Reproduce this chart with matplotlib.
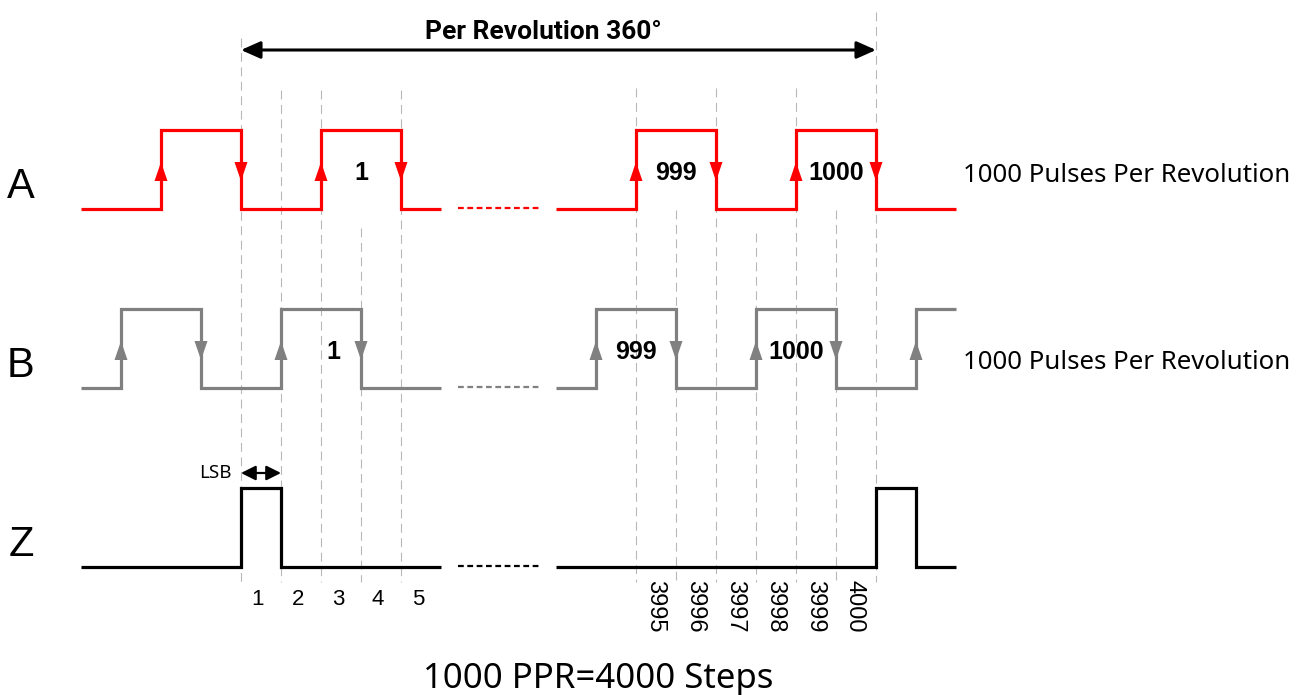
import matplotlib.pyplot as plt

# time axis in encoder steps, boundary 0 = index pulse (start of a revolution)
left_window = [-4, 5]
right_window = [3992, 4002]

a_edges_left = [-2, 0, 2, 4]
a_edges_right = [3994, 3996, 3998, 4000]
b_edges_left = [-3, -1, 1, 3]
b_edges_right = [3993, 3995, 3997, 3999, 4001]
z_edges_left = [0, 1]
z_edges_right = [4000, 4001]

pulse_labels = ['1', '999', '1000']
step_labels_left = ['1', '2', '3', '4', '5']
step_labels_right = ['3995', '3996', '3997', '3998', '3999', '4000']
boundaries = [0, 1, 2, 3, 4, 3994, 3995, 3996, 3997, 3998, 3999, 4000]
boundary_tops = [38, 90, 90, 228, 90, 88, 210, 88, 233, 88, 210, 12]  # px, style only

channel_names = ['A', 'B', 'Z']
side_text = '1000 Pulses Per Revolution'
rev_text = 'Per Revolution 360°'
bottom_text = '1000 PPR=4000 Steps'

# layout: x in steps (40 px each), y in pixels from top
PX = 1 / 40.0
SHIFT = 3984.125          # right part of the diagram is drawn after a break
AMP = 79


def pos(t):
    return t - SHIFT if t > 1000 else t


def px(x):
    return (x - 241) * PX


def wave(edges, window, low):
    xs, ys = [window[0]], [low]
    level = 0
    for e in edges:
        xs += [e, e]
        ys += [low - AMP * level, low - AMP * (1 - level)]
        level = 1 - level
    xs.append(window[1])
    ys.append(low - AMP * level)
    return [pos(x) for x in xs], ys


def pulses(edges):
    # high intervals from a list of edges starting low
    out = []
    for i in range(0, len(edges), 2):
        end = edges[i + 1] if i + 1 < len(edges) else None
        out.append((edges[i], end))
    return out


fig = plt.figure(figsize=(13.07, 6.95), dpi=100)
ax = fig.add_axes([0, 0, 1, 1])
ax.set_xlim(px(0), px(1307))
ax.set_ylim(695, 0)
ax.axis('off')

# dashed step boundaries
for b, top in zip(boundaries, boundary_tops):
    ax.plot([pos(b), pos(b)], [top, 582], color='#b8b8b8', lw=0.8,
            linestyle=(0, (8, 5)), zorder=1)

rows = [
    ('A', a_edges_left, a_edges_right, 209, '#ff0000', True),
    ('B', b_edges_left, b_edges_right, 388, '#808080', True),
    ('Z', z_edges_left, z_edges_right, 567, '#000000', False),
]

for name, el, er, low, col, arrows in rows:
    for edges, window in [(el, left_window), (er, right_window)]:
        xs, ys = wave(edges, window, low)
        ax.plot(xs, ys, color=col, lw=2.3, solid_joinstyle='miter',
                solid_capstyle='butt', zorder=3)
    # break between the two parts
    ax.plot([px(458), px(540)], [low - 1, low - 1], color=col, lw=1.6,
            linestyle=(0, (2.6, 1.6)), zorder=3)
    ax.text(px(21), low - 11, name, fontsize=30, family='Liberation Sans',
            ha='center', va='baseline')
    if arrows:
        yc = low - AMP / 2 + 2
        for edges in (el, er):
            for i, e in enumerate(edges):
                d = -1 if i % 2 == 0 else 1   # rising -> arrow up
                x = pos(e)
                ax.fill([x, x - 6.5 * PX, x + 6.5 * PX],
                        [yc + 9.5 * d, yc - 9.5 * d, yc - 9.5 * d],
                        color=col, lw=0, zorder=4)
        # pulse counts
        pl = pulses(el)[-1:] + pulses(er)[:2]
        for k, ((s, e), lab) in enumerate(zip(pl, pulse_labels)):
            xc = (pos(s) + pos(e)) / 2
            if name == 'B' and k == 0:
                xc += 0.3
            ax.text(xc, low - 29, lab, fontsize=18, family='Liberation Sans',
                    weight='bold', ha='center', va='baseline', zorder=5)

ax.text(px(963), 182, side_text, fontsize=18.6, family='Noto Sans',
        ha='left', va='baseline')
ax.text(px(963), 369, side_text, fontsize=18.6, family='Noto Sans',
        ha='left', va='baseline')

# revolution arrow
ax.annotate('', xy=(pos(0), 50), xytext=(pos(4000), 50),
            arrowprops=dict(arrowstyle='<|-|>,head_length=0.9,head_width=0.4',
                            mutation_scale=13, lw=2.2, color='black',
                            shrinkA=0, shrinkB=0))
ax.text(px(543), 39, rev_text, fontsize=19, family='Roboto', weight='bold',
        ha='center', va='baseline')

# LSB
ax.annotate('', xy=(pos(0), 473), xytext=(pos(1), 473),
            arrowprops=dict(arrowstyle='<|-|>,head_length=0.8,head_width=0.4',
                            mutation_scale=11, lw=1.6, color='black',
                            shrinkA=0, shrinkB=0))
ax.text(px(232), 478, 'LSB', fontsize=13.5, family='Noto Sans',
        ha='right', va='baseline')

# step numbers
for i, lab in enumerate(step_labels_left):
    ax.text(boundaries[i] + 0.42, 605, lab, fontsize=16,
            family='Liberation Sans', ha='center', va='baseline')
for i, lab in enumerate(step_labels_right):
    ax.text(pos(boundaries[5 + i]) + 0.47, 580, lab, fontsize=17,
            family='Liberation Sans', rotation=-90, ha='center', va='top')

ax.text(px(598), 688, bottom_text, fontsize=25, family='Noto Sans',
        ha='center', va='baseline')

fig.savefig('out.png', dpi=100)
